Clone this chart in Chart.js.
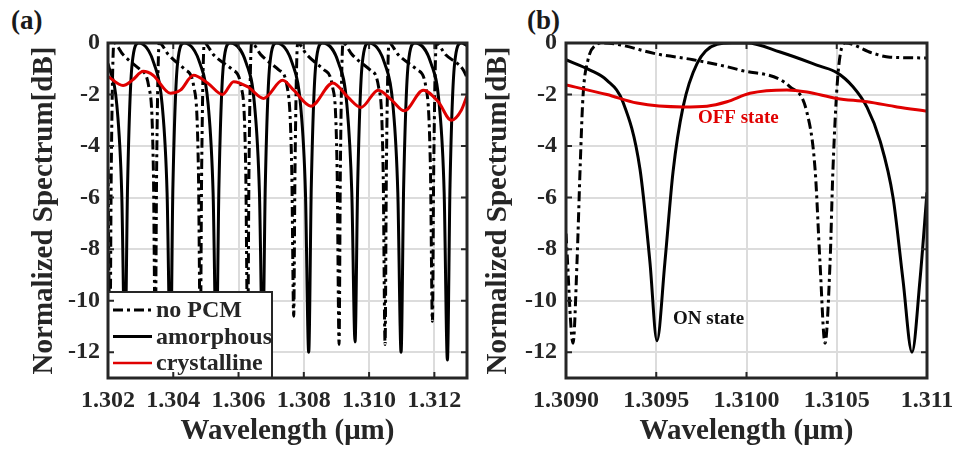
<!DOCTYPE html>
<html><head><meta charset="utf-8">
<script src="https://cdn.jsdelivr.net/npm/chart.js@4/dist/chart.umd.min.js"></script>
<style>
html,body{margin:0;padding:0;background:#fff;width:957px;height:450px;overflow:hidden;position:relative}
canvas{position:absolute;top:0}
#ca{left:0}
#cb{left:480px}
.lbl{position:absolute;font-family:'Liberation Serif','Times New Roman',serif;font-weight:bold;font-size:27px;line-height:27px;color:#1a1a1a}
</style></head><body>
<div class="lbl" style="left:11px;top:7px">(a)</div>
<div class="lbl" style="left:527px;top:7px">(b)</div>
<canvas id="ca" width="480" height="450"></canvas>
<canvas id="cb" width="477" height="450"></canvas>
<script>
// ---------- shared ----------
const seriesNames = ['no PCM', 'amorphous', 'crystalline'];
const yTicks = [-12, -10, -8, -6, -4, -2, 0];

// ---------- panel (a) ----------
const xTicksA  = [1.302, 1.304, 1.306, 1.308, 1.310, 1.312];
const xLabelsA = ['1.302', '1.304', '1.306', '1.308', '1.310', '1.312'];

const noPcmA_x = [1.30200,1.30206,1.30210,1.30218,1.30246,
  1.30300,1.30325,1.30339,1.30345,1.30349,1.30357,1.30385,
  1.30438,1.30463,1.30477,1.30483,1.30487,1.30495,1.30523,
  1.30583,1.30608,1.30622,1.30628,1.30632,1.30640,1.30668,
  1.30724,1.30749,1.30763,1.30769,1.30773,1.30781,1.30809,
  1.30863,1.30888,1.30902,1.30908,1.30912,1.30920,1.30948,
  1.31004,1.31029,1.31043,1.31049,1.31053,1.31061,1.31089,
  1.31149,1.31174,1.31188,1.31194,1.31198,1.31206,1.31234,
  1.31289,1.31300];
const noPcmA_y = [-4.9,-11.7,-4.9,0,-0.45,
  -1.05,-1.7,-4.9,-11.7,-4.9,0,-0.45,
  -1.05,-1.7,-4.9,-11.5,-4.9,0,-0.45,
  -1.05,-1.7,-4.9,-11.7,-4.9,0,-0.45,
  -1.05,-1.7,-4.9,-10.6,-4.9,0,-0.45,
  -1.05,-1.7,-4.9,-11.7,-4.9,0,-0.45,
  -1.05,-1.7,-4.9,-11.7,-4.9,0,-0.45,
  -1.05,-1.7,-4.9,-10.8,-4.9,0,-0.45,
  -1.05,-1.35];

const amorA_x = [1.30200,1.30227,1.30242,1.30252,1.30260,1.30274,1.30294,
  1.30341,1.30366,1.30381,1.30391,1.30399,1.30413,1.30433,
  1.30482,1.30507,1.30522,1.30532,1.30540,1.30554,1.30574,
  1.30624,1.30649,1.30664,1.30674,1.30682,1.30696,1.30716,
  1.30765,1.30790,1.30805,1.30815,1.30823,1.30837,1.30857,
  1.30907,1.30932,1.30947,1.30957,1.30965,1.30979,1.30999,
  1.31048,1.31073,1.31088,1.31098,1.31106,1.31120,1.31140,
  1.31190,1.31215,1.31230,1.31240,1.31248,1.31262,1.31282,
  1.31300];
const amorA_y = [-0.8,-2.4,-5.8,-12.0,-5.5,-0.8,0,
  -0.8,-2.4,-5.8,-12.0,-5.5,-0.8,0,
  -0.8,-2.4,-5.8,-12.0,-5.5,-0.8,0,
  -0.8,-2.4,-5.8,-12.0,-5.5,-0.8,0,
  -0.8,-2.4,-5.8,-12.0,-5.5,-0.8,0,
  -0.8,-2.4,-5.8,-11.6,-5.5,-0.8,0,
  -0.8,-2.4,-5.8,-12.0,-5.5,-0.8,0,
  -0.8,-2.4,-5.8,-12.3,-5.5,-0.8,0,
  -0.1];

const crysA_x = [1.30200,1.30246,1.30274,1.30308,1.30338,1.30391,1.30422,1.30462,1.30505,
  1.30551,1.30585,1.30628,1.30677,1.30735,1.30769,1.30822,1.30889,1.30935,1.30975,
  1.31028,1.31068,1.31108,1.31166,1.31212,1.31252,1.31283,1.31300];
const crysA_y = [-1.3,-1.65,-1.45,-1.1,-1.25,-1.95,-1.83,-1.25,-1.55,
  -2.0,-1.5,-1.7,-2.15,-1.45,-1.83,-2.45,-1.55,-2.1,-2.5,
  -1.83,-2.2,-2.63,-1.83,-2.28,-3.0,-2.6,-2.05];

// ---------- panel (b) ----------
const xTicksB  = [1.3090, 1.3095, 1.3100, 1.3105, 1.3110];
const xLabelsB = ['1.3090', '1.3095', '1.3100', '1.3105', '1.311'];

const noPcmB_x = [1.30900,1.309039,1.309061,1.309078,1.309094,1.309122,1.309161,1.309205,
  1.309521,1.309704,1.309964,1.310241,1.310335,1.310380,1.310407,1.310435,1.310463,
  1.310479,1.310507,1.310546,1.310701,1.310795,1.311];
const noPcmB_y = [-7.4,-11.65,-8.5,-4.9,-2.1,-0.65,-0.1,0,
  -0.45,-0.65,-1.05,-1.7,-2.7,-4.9,-8.5,-11.65,-8.5,
  -4.9,-1.2,0,-0.4,-0.55,-0.58];

const amorB_x = [1.30900,1.309133,1.309227,1.309316,1.309410,1.309465,1.309504,1.309548,1.309593,
  1.309648,1.309726,1.309837,1.309920,1.310003,1.310186,1.310407,1.310501,1.310590,
  1.310668,1.310740,1.310812,1.310867,1.310917,1.310961,1.311];
const amorB_y = [-0.65,-1.05,-1.45,-2.3,-4.9,-8.5,-11.55,-8.5,-5.0,
  -2.5,-0.8,-0.05,0,0,-0.35,-0.9,-1.15,-1.7,
  -2.5,-3.8,-6.0,-9.2,-12.0,-9.2,-5.8];

const crysB_x = [1.30900,1.309227,1.309393,1.309648,1.309781,1.309892,1.310019,1.310224,
  1.310335,1.310501,1.310668,1.310834,1.311];
const crysB_y = [-1.63,-2.0,-2.33,-2.48,-2.45,-2.28,-1.95,-1.82,
  -1.9,-2.15,-2.28,-2.48,-2.65];

const notesB = [
  {text: 'OFF state', x: 1.309731, y: -2.91, red: true},
  {text: 'ON state',  x: 1.309593, y: -10.71, red: false}
];

// ---------- styling ----------
const FONT = "'Liberation Serif', 'Times New Roman', serif";
const INK = '#262626';
const RED = '#e00000';
const GRID = '#dcdcdc';
const DASH = [10, 4, 3, 4];

function pts(xs, ys) { return xs.map((x, i) => ({x: x, y: ys[i]})); }
function ds(label, xs, ys, color, dash, order) {
  return {label, data: pts(xs, ys), borderColor: color, borderWidth: 3, borderDash: dash || [],
    pointRadius: 0, fill: false, cubicInterpolationMode: 'monotone', borderCapStyle: 'butt',
    borderJoinStyle: 'round', order};
}

function scalesCfg(xmin, xmax, xTicks, xLabels, yWidth, yLabelPad, yTitlePad) {
  return {
    x: {
      type: 'linear', min: xmin, max: xmax,
      afterBuildTicks: s => { s.ticks = xTicks.map(v => ({value: v})); },
      afterFit: s => { s.height = 72; },
      ticks: {autoSkip: false, maxRotation: 0, minRotation: 0, padding: 0, color: INK,
        font: {family: FONT, size: 24, weight: 'bold'},
        callback: v => { const i = xTicks.findIndex(t => Math.abs(t - v) < 1e-9); return i >= 0 ? xLabels[i] : ''; }},
      grid: {color: GRID, lineWidth: 2, drawTicks: true, tickLength: 8, tickColor: 'rgba(0,0,0,0)'},
      border: {display: false},
      title: {display: true, text: 'Wavelength (μm)', color: INK,
        font: {family: FONT, size: 29, weight: 'bold'}, padding: {top: 0, bottom: 1}}
    },
    y: {
      type: 'linear', min: -13, max: 0,
      afterBuildTicks: s => { s.ticks = yTicks.map(v => ({value: v})); },
      afterFit: s => { s.width = yWidth; },
      ticks: {padding: yLabelPad, color: INK, font: {family: FONT, size: 24, weight: 'bold'}},
      grid: {color: GRID, lineWidth: 2, drawTicks: false},
      border: {display: false},
      title: {display: true, text: 'Normalized Spectrum[dB]', color: INK,
        font: {family: FONT, size: 29, weight: 'bold'}, padding: {top: yTitlePad, bottom: 0}}
    }
  };
}

function drawFrame(chart) {
  const {ctx, chartArea: a, scales: {x, y}} = chart;
  ctx.save();
  ctx.strokeStyle = INK; ctx.lineWidth = 2; ctx.setLineDash([]);
  const tl = 6;
  x.ticks.forEach(t => {
    const px = x.getPixelForValue(t.value);
    ctx.beginPath(); ctx.moveTo(px, a.bottom); ctx.lineTo(px, a.bottom - tl);
    ctx.moveTo(px, a.top); ctx.lineTo(px, a.top + tl); ctx.stroke();
  });
  y.ticks.forEach(t => {
    const py = y.getPixelForValue(t.value);
    ctx.beginPath(); ctx.moveTo(a.left, py); ctx.lineTo(a.left + tl, py);
    ctx.moveTo(a.right, py); ctx.lineTo(a.right - tl, py); ctx.stroke();
  });
  ctx.lineWidth = 3;
  ctx.strokeRect(a.left, a.top, a.right - a.left, a.bottom - a.top);
  ctx.restore();
}

const legendA = {
  id: 'legendA',
  afterDatasetsDraw(chart) {
    const {ctx, chartArea: a} = chart;
    const styles = [{c: '#000', d: DASH, w: 3}, {c: '#000', d: [], w: 3}, {c: RED, d: [], w: 2.5}];
    const boxR = 272, boxT = 292;
    ctx.save();
    ctx.fillStyle = '#fff';
    ctx.fillRect(a.left, boxT, boxR - a.left, a.bottom - boxT);
    ctx.strokeStyle = INK; ctx.lineWidth = 2;
    ctx.strokeRect(a.left, boxT, boxR - a.left, a.bottom - boxT);
    ctx.font = 'bold 24px ' + FONT;
    ctx.textBaseline = 'middle'; ctx.textAlign = 'left';
    seriesNames.forEach((name, i) => {
      const yy = 310 + i * 26.5;
      ctx.strokeStyle = styles[i].c; ctx.lineWidth = styles[i].w; ctx.setLineDash(styles[i].d);
      ctx.beginPath(); ctx.moveTo(113, yy); ctx.lineTo(152, yy); ctx.stroke();
      ctx.fillStyle = INK;
      ctx.fillText(name, 156, yy + 1);
    });
    ctx.restore();
    drawFrame(chart);
  }
};

const notesPluginB = {
  id: 'notesB',
  afterDatasetsDraw(chart) {
    const {ctx, scales: {x, y}} = chart;
    ctx.save();
    ctx.font = 'bold 19px ' + FONT;
    ctx.textBaseline = 'middle'; ctx.textAlign = 'left';
    notesB.forEach(n => {
      ctx.fillStyle = n.red ? RED : '#111';
      ctx.fillText(n.text, x.getPixelForValue(n.x), y.getPixelForValue(n.y));
    });
    ctx.restore();
    drawFrame(chart);
  }
};

const common = {
  responsive: false, animation: false, devicePixelRatio: 1,
  plugins: {legend: {display: false}, tooltip: {enabled: false}},
  events: []
};

new Chart(document.getElementById('ca'), {
  type: 'line',
  data: {datasets: [
    ds(seriesNames[0], noPcmA_x, noPcmA_y, '#000', DASH, 2),
    ds(seriesNames[1], amorA_x, amorA_y, '#000', [], 1),
    ds(seriesNames[2], crysA_x, crysA_y, RED, [], 0)
  ]},
  options: Object.assign({}, common, {
    layout: {padding: {left: 0, top: 43, right: 13, bottom: 0}},
    scales: scalesCfg(1.302, 1.313, xTicksA, xLabelsA, 108, 8, 27.6)
  }),
  plugins: [legendA]
});

new Chart(document.getElementById('cb'), {
  type: 'line',
  data: {datasets: [
    ds(seriesNames[0], noPcmB_x, noPcmB_y, '#000', DASH, 2),
    ds(seriesNames[1], amorB_x, amorB_y, '#000', [], 1),
    ds(seriesNames[2], crysB_x, crysB_y, RED, [], 0)
  ]},
  options: Object.assign({}, common, {
    layout: {padding: {left: 0, top: 43, right: 30, bottom: 0}},
    scales: scalesCfg(1.3090, 1.3110, xTicksB, xLabelsB, 86, 9, 1.6)
  }),
  plugins: [notesPluginB]
});
</script>
</body></html>
